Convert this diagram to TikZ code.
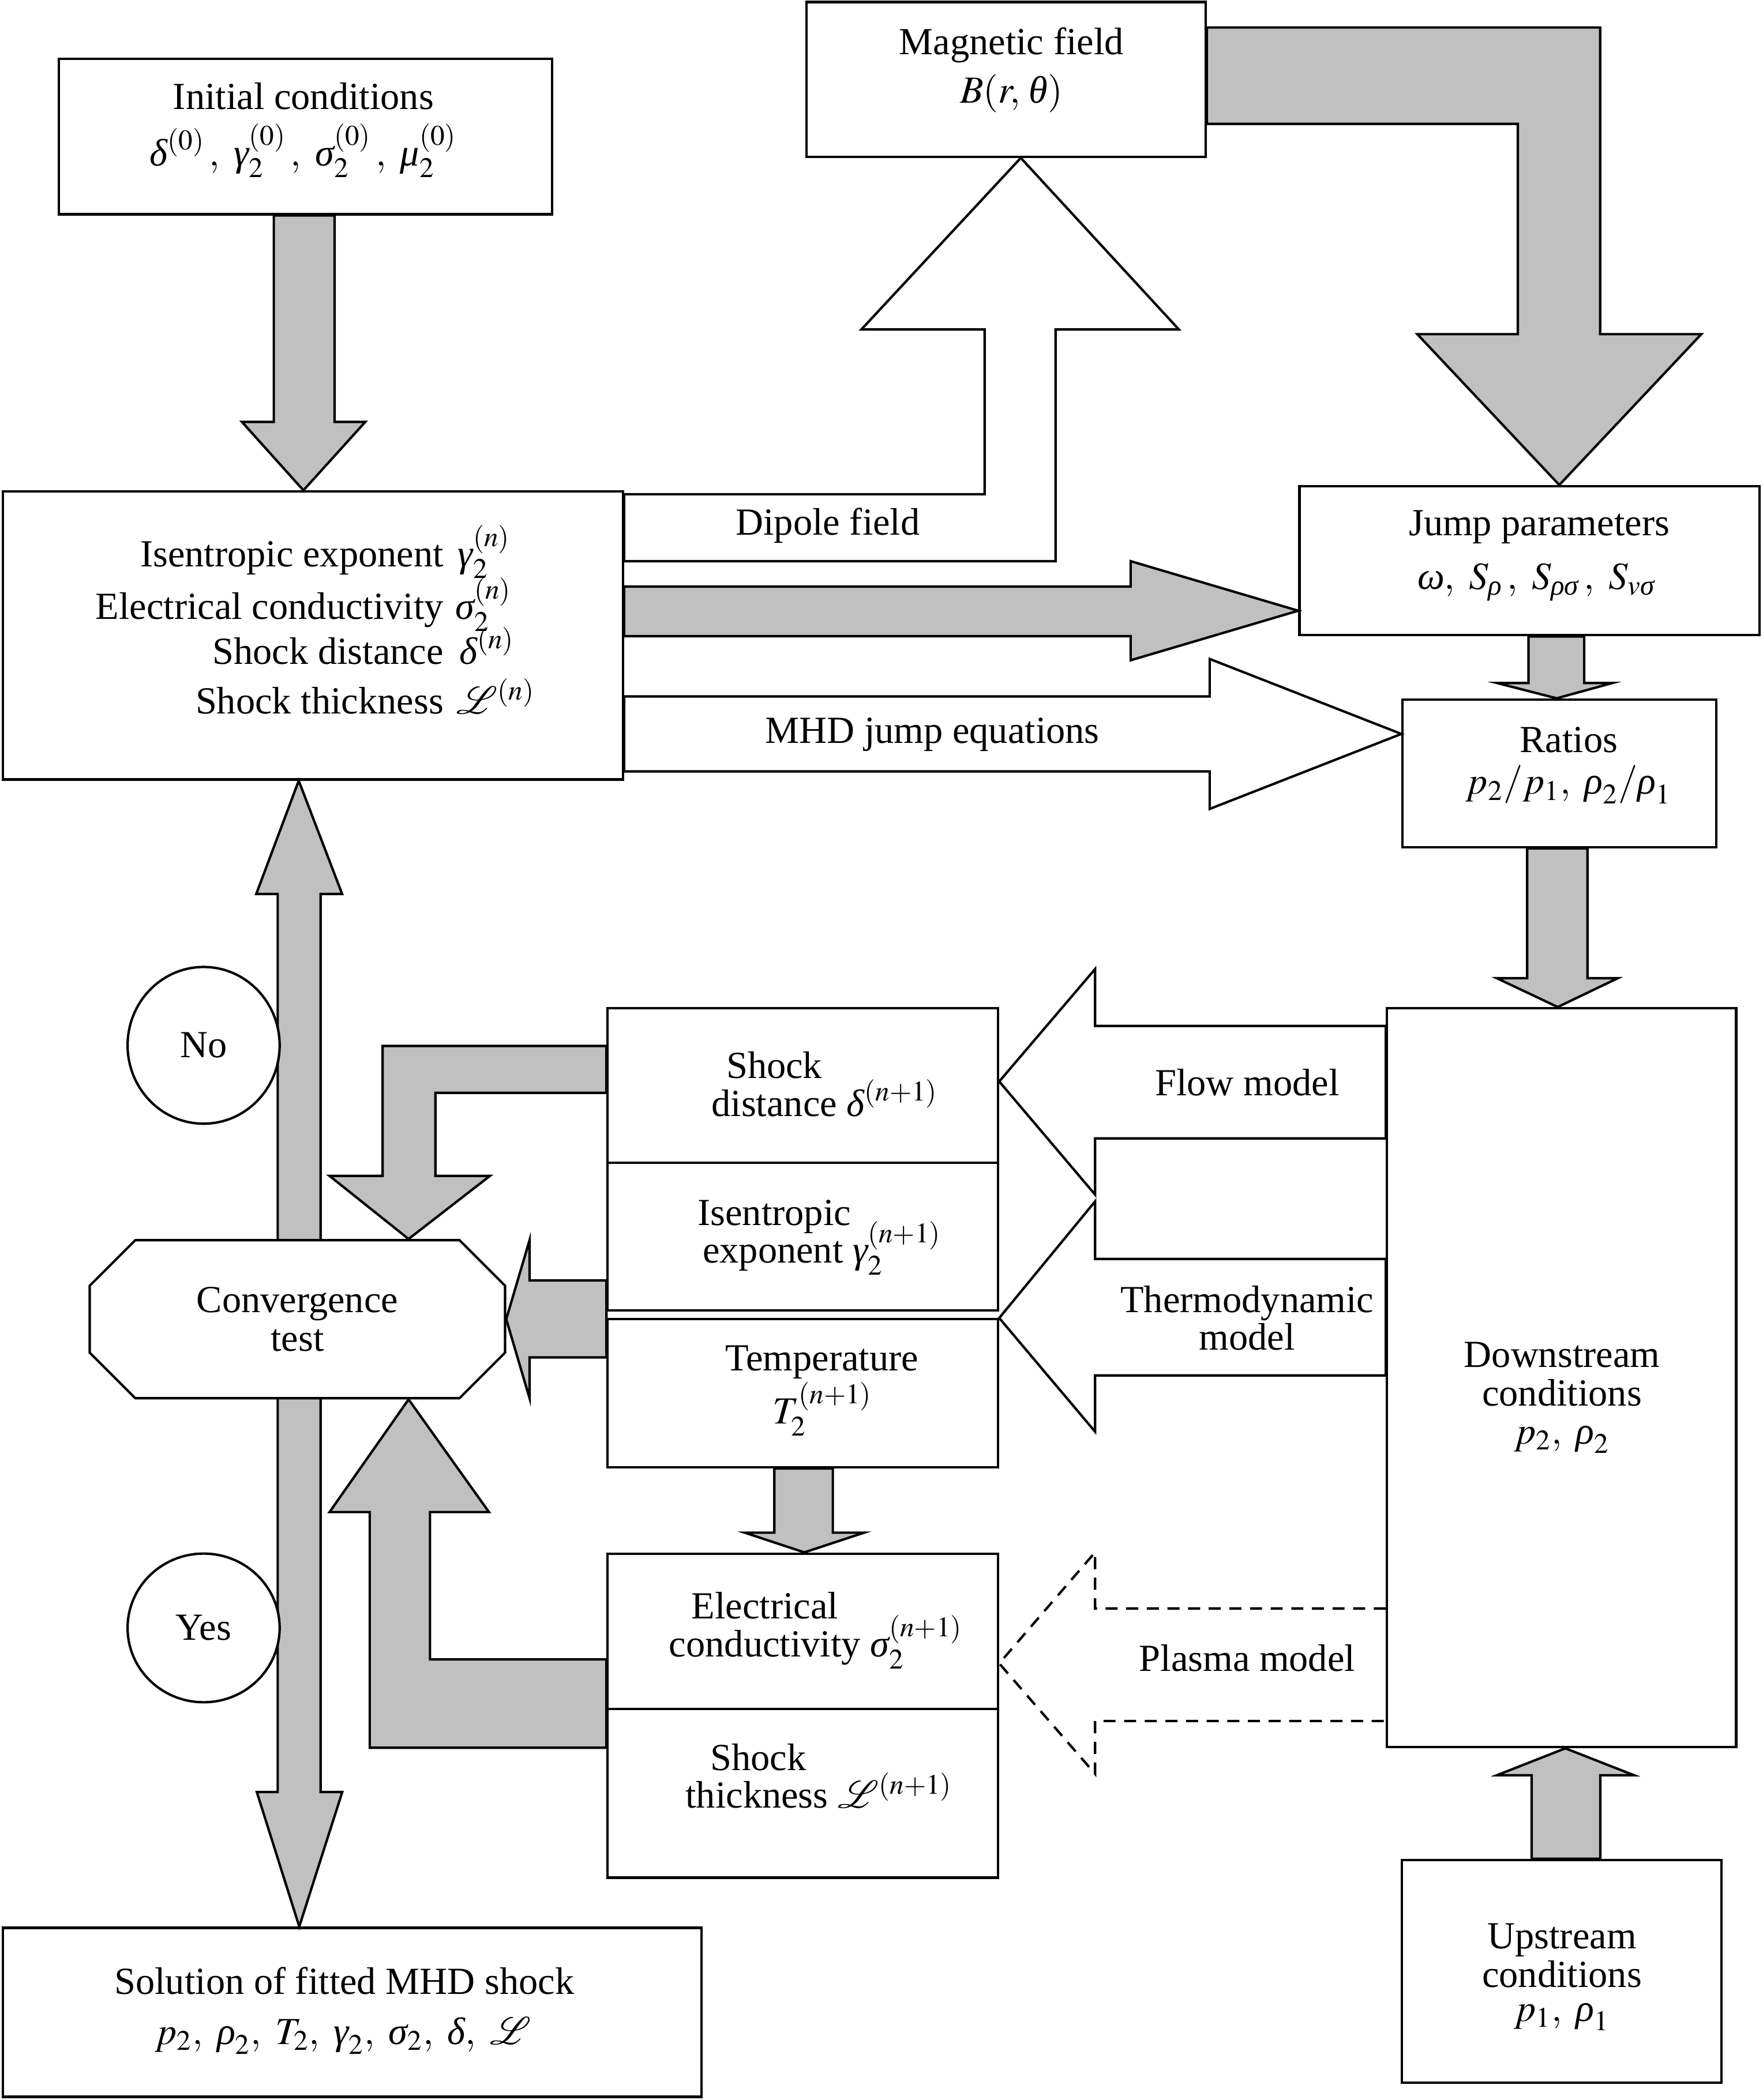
\documentclass[tikz,border=0pt]{standalone}
\usepackage{mathptmx}
\usepackage{amsmath}
\usepackage{fontspec}
\setmainfont{Liberation Serif}
\usepackage{mathrsfs}
\usetikzlibrary{shapes.geometric}
\definecolor{arrowgray}{RGB}{192,192,192}
% italic Greek from the text font
\newcommand{\gk}[1]{\text{\itshape #1}}

\begin{document}
\begin{tikzpicture}[x=0.5pt, y=-0.5pt, line width=0.9pt,
  font=\fontsize{14.3}{17}\selectfont,
  sz/.style 2 args={minimum width=#1*0.5pt, minimum height=#2*0.5pt},
  box/.style={draw, fill=white, inner sep=0},
  garrow/.style={draw, fill=arrowgray},
  warrow/.style={draw, fill=white},
  dwarrow/.style={draw, dash pattern=on 4.5pt off 3.2pt},
  lbl/.style={anchor=base, inner sep=0}]
\useasboundingbox (0,0) rectangle (1316,1568);

% Boxes
\node[box, sz={368}{116}] (init) at (228,102) {};
\node[box, sz={298}{115.5}] (mag) at (751,59.25) {};
\node[box, sz={463}{215}] (main) at (233.5,474.5) {};
\node[box, sz={343.6}{111.3}] (jump) at (1141.8,418.65) {};
\node[box, sz={234}{110.3}] (ratios) at (1164,577.45) {};
\node[box, sz={260.6}{551.7}] (down) at (1165.7,1028.65) {};
\node[box, sz={238.4}{166.2}] (up) at (1165.8,1471.9) {};
\node[box, sz={291.4}{115.4}] (sdist) at (599.3,810.5) {};
\node[box, sz={291.4}{110.1}] (isen) at (599.3,923.25) {};
\node[box, sz={291.4}{110.5}] (temp) at (599.3,1040.25) {};
\node[box, sz={291.4}{116}] (elec) at (599.3,1218) {};
\node[box, sz={291.4}{126}] (thick) at (599.3,1339) {};
\node[box, sz={521.6}{126.2}] (sol) at (263,1502.5) {};

% No / Yes bar
\draw[garrow] (207.3,667.5) -- (191.3,667.5) -- (main.south -| 223,0) -- (255.4,667.5)
  -- (239.3,667.5) -- (239.3,1338) -- (255.5,1338) -- (sol.north -| 223.4,0)
  -- (191.7,1338) -- (207.3,1338) -- cycle;

% Convergence test
\draw[fill=white] (101,926) -- (343,926) -- (377,960) -- (377,1010) -- (343,1044)
  -- (101,1044) -- (67,1010) -- (67,960) -- cycle;
\node[sz={310}{118}, inner sep=0, align=center, font=\fontsize{14.3}{14.5}\selectfont]
  (conv) at (222,985) {Convergence\\test};
\node[draw, fill=white, ellipse, inner sep=0, sz={113.5}{117}] (no) at (152,780.5) {No};
\node[draw, fill=white, ellipse, inner sep=0, sz={113.5}{111}] (yes) at (152,1215.5) {Yes};

% Block arrows
\draw[garrow] (init.south -| 204.4,0) -- (204.4,315) -- (180.6,315) -- (main.north -| 226.5,0)
  -- (272.7,315) -- (249.8,315) -- (init.south -| 249.8,0) -- cycle;
\draw[garrow] (mag.east |- 0,20.5) -- (1194.5,20.5) -- (1194.5,249.5) -- (1270,249.5)
  -- (jump.north -| 1164,0) -- (1058,249.5) -- (1133,249.5) -- (1133,92.5)
  -- (mag.east |- 0,92.5) -- cycle;
\draw[warrow] (main.east |- 0,369) -- (735,369) -- (735,246) -- (643,246)
  -- (mag.south -| 762,0) -- (880,246) -- (788,246) -- (788,419)
  -- (main.east |- 0,419) -- cycle;
\draw[garrow] (main.east |- 0,438) -- (844,438) -- (844,419) -- (jump.west |- 0,456)
  -- (844,493) -- (844,475) -- (main.east |- 0,475) -- cycle;
\draw[warrow] (main.east |- 0,520) -- (903,520) -- (903,492) -- (ratios.west |- 0,548)
  -- (903,604) -- (903,576) -- (main.east |- 0,576) -- cycle;
\draw[garrow] (jump.south -| 1141,0) -- (1141,510) -- (1117.6,510) -- (ratios.north -| 1162,0)
  -- (1203.6,510) -- (1182.6,510) -- (jump.south -| 1182.6,0) -- cycle;
\draw[garrow] (ratios.south -| 1140,0) -- (1140,730.4) -- (1117.4,730.4) -- (down.north -| 1162.8,0)
  -- (1207.6,730.4) -- (1185,730.4) -- (ratios.south -| 1185,0) -- cycle;
\draw[garrow] (up.north -| 1143.4,0) -- (1143.4,1325.5) -- (1117.4,1325.5) -- (down.south -| 1168.5,0)
  -- (1219.8,1325.5) -- (1194.6,1325.5) -- (up.north -| 1194.6,0) -- cycle;
\draw[warrow] (down.west |- 0,766) -- (817.5,766) -- (817.5,723.5) -- (sdist.east |- 0,807.5)
  -- (817.5,892) -- (817.5,850) -- (down.west |- 0,850) -- cycle;
\draw[warrow] (down.west |- 0,940) -- (817.5,940) -- (817.5,897) -- (temp.north east)
  -- (817.5,1069) -- (817.5,1027) -- (down.west |- 0,1027) -- cycle;
\draw[dwarrow] (down.west |- 0,1201) -- (817.5,1201) -- (817.5,1159) -- (elec.east |- 0,1242)
  -- (817.5,1324.5) -- (817.5,1285) -- (down.west |- 0,1285);
\draw[garrow] (temp.south -| 578,0) -- (578,1144.4) -- (556,1144.4) -- (elec.north -| 600.4,0)
  -- (645,1144.4) -- (621.7,1144.4) -- (temp.south -| 621.7,0) -- cycle;
\draw[garrow] (sdist.west |- 0,781) -- (285.6,781) -- (285.6,878) -- (246,878)
  -- (conv.north -| 305,0) -- (365.7,878) -- (325,878) -- (325,816)
  -- (sdist.west |- 0,816) -- cycle;
\draw[garrow] (isen.west |- 0,956) -- (395.3,956) -- (395.3,926) -- (conv.east)
  -- (395.3,1044) -- (395.3,1013.5) -- (temp.west |- 0,1013.5) -- cycle;
\draw[garrow] (elec.west |- 0,1305) -- (276,1305) -- (276,1129) -- (246,1129)
  -- (conv.south -| 305,0) -- (365,1129) -- (321,1129) -- (321,1239)
  -- (elec.west |- 0,1239) -- cycle;

% Texts
\node[lbl] (init-a) at (226.5,81.6) {Initial conditions};
\node[lbl] (init-b) at (226.5,123.6) {$\gk{δ}^{(0)}\,,\ \gk{γ}_2^{(0)}\,,\ \gk{σ}_2^{(0)}\,,\ \gk{μ}_2^{(0)}$};
\node[lbl] (mag-a) at (755,40.8) {Magnetic field};
\node[lbl] (mag-b) at (755,77) {$B(r,\,\gk{θ})$};
\node[lbl, anchor=base east] (main-a) at (332,423) {Isentropic exponent};
\node[lbl, anchor=base east] (main-b) at (332,462.5) {Electrical conductivity};
\node[lbl, anchor=base east] (main-c) at (332,496) {Shock distance};
\node[lbl, anchor=base east] (main-d) at (332,533) {Shock thickness};
\node[lbl, anchor=base west] (main-e) at (341,423) {$\gk{γ}_2^{(n)}$};
\node[lbl, anchor=base west] (main-f) at (339,462.5) {$\gk{σ}_2^{(n)}$};
\node[lbl, anchor=base west] (main-g) at (342,496) {$\gk{δ}^{(n)}$};
\node[lbl, anchor=base west] (main-h) at (340,533) {$\mathscr{L}^{(n)}$};
\node[lbl] (dipole) at (618,399.6) {Dipole field};
\node[lbl] (mhd) at (696,554.8) {MHD jump equations};
\node[lbl] (jump-a) at (1149,400) {Jump parameters};
\node[lbl] (jump-b) at (1147,440) {$\gk{ω},\ S_{\gk{ρ}}\,,\ S_{\gk{ρσ}}\,,\ S_{v\gk{σ}}$};
\node[lbl] (ratios-a) at (1171,561.6) {Ratios};
\node[lbl] (ratios-b) at (1171,593) {$p_2/p_1,\ \gk{ρ}_2/\gk{ρ}_1$};
\node[lbl] (flow) at (931,818) {Flow model};
\node[lbl] (thermo-a) at (931,980) {Thermodynamic};
\node[lbl] (thermo-b) at (931,1008) {model};
\node[lbl] (plasma) at (931,1248) {Plasma model};
\node[lbl] (down-a) at (1166,1021) {Downstream};
\node[lbl] (down-b) at (1166,1049.6) {conditions};
\node[lbl] (down-c) at (1166,1078) {$p_2,\ \gk{ρ}_2$};
\node[lbl] (up-a) at (1166,1455) {Upstream};
\node[lbl] (up-b) at (1166,1483.7) {conditions};
\node[lbl] (up-c) at (1166,1509) {$p_1,\ \gk{ρ}_1$};
\node[lbl] (sdist-a) at (578,805) {Shock};
\node[lbl] (sdist-b) at (578,833.6) {distance\rlap{\ $\gk{δ}^{(n+1)}$}};
\node[lbl] (isen-a) at (578,914.7) {Isentropic};
\node[lbl] (isen-b) at (577,943) {exponent\rlap{\ $\gk{γ}_2^{(n+1)}$}};
\node[lbl] (temp-a) at (613.5,1023.4) {Temperature};
\node[lbl] (temp-b) at (614,1063) {$T_2^{(n+1)}$};
\node[lbl] (elec-a) at (571,1208.5) {Electrical};
\node[lbl] (elec-b) at (571,1237) {conductivity\rlap{\ $\gk{σ}_2^{(n+1)}$}};
\node[lbl] (thick-a) at (566,1322) {Shock};
\node[lbl] (thick-b) at (565,1350) {thickness\rlap{\ $\mathscr{L}^{(n+1)}$}};
\node[lbl] (sol-a) at (257,1489) {Solution of fitted MHD shock};
\node[lbl] (sol-b) at (256,1526.5) {$p_2,\ \gk{ρ}_2,\ T_2,\ \gk{γ}_2,\ \gk{σ}_2,\ \gk{δ},\ \mathscr{L}$};
\end{tikzpicture}
\end{document}
